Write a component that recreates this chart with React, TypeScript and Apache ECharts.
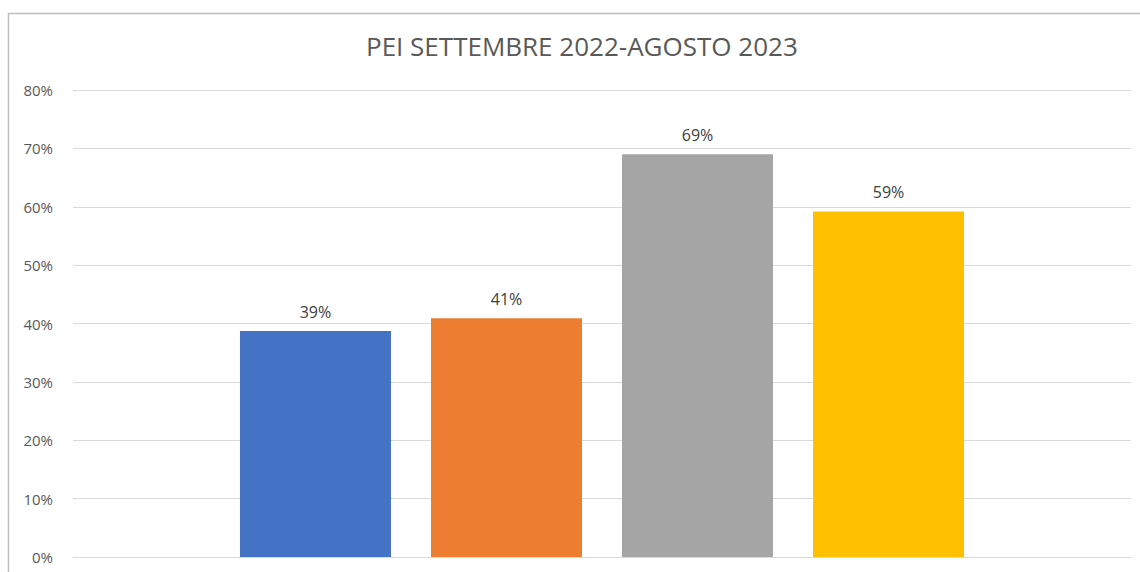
import React, { useEffect, useRef } from "react";
import * as echarts from "echarts";

const seriesNames = ["Serie 1", "Serie 2", "Serie 3", "Serie 4"];
const seriesValues = [0.387, 0.409, 0.69, 0.592];
const seriesColors = ["#4472C4", "#ED7D31", "#A5A5A5", "#FFC000"];
const categories = ["PEI"];
const titleText = "PEI SETTEMBRE 2022-AGOSTO 2023";

export default function App() {
  const ref = useRef<HTMLDivElement>(null);
  useEffect(() => {
    const chart = echarts.init(ref.current!, null, { renderer: "svg" });
    chart.setOption({
      animation: false,
      backgroundColor: "#ffffff",
      title: {
        text: titleText,
        left: 361,
        top: 28,
        textStyle: {
          fontFamily: "Open Sans",
          fontSize: 26,
          fontWeight: "normal",
          color: "#595959",
        },
      },
      graphic: [
        {
          type: "rect",
          shape: { x: 8.5, y: 13.5, width: 1200, height: 700 },
          style: { fill: "none", stroke: "#bfbfbf", lineWidth: 1.5 },
          silent: true,
          z: -1,
        },
      ],
      grid: { left: 73, right: 9, top: 90, bottom: 15 },
      xAxis: {
        type: "category",
        data: categories,
        axisLine: { show: true, lineStyle: { color: "#d9d9d9", width: 1 } },
        axisTick: { show: false },
        axisLabel: { show: false },
      },
      yAxis: {
        type: "value",
        min: 0,
        max: 0.8,
        interval: 0.1,
        axisLine: { show: false },
        axisTick: { show: false },
        splitLine: { lineStyle: { color: "#d9d9d9", width: 1 } },
        axisLabel: {
          formatter: (v: number) => Math.round(v * 100) + "%",
          color: "#595959",
          fontFamily: "Open Sans",
          fontSize: 15,
          margin: 20,
        },
      },
      series: seriesNames.map((name, i) => ({
        name,
        type: "bar",
        data: [seriesValues[i]],
        barWidth: 151,
        barGap: "26.5%",
        itemStyle: { color: seriesColors[i] },
        label: {
          show: true,
          position: "top",
          distance: 11,
          formatter: (p: any) => Math.round(p.value * 100) + "%",
          color: "#404040",
          fontFamily: "Open Sans",
          fontSize: 16,
        },
      })),
    });
    return () => chart.dispose();
  }, []);
  return (
    <div
      ref={ref}
      style={{ position: "fixed", left: 0, top: 0, width: 1140, height: 572 }}
    />
  );
}
